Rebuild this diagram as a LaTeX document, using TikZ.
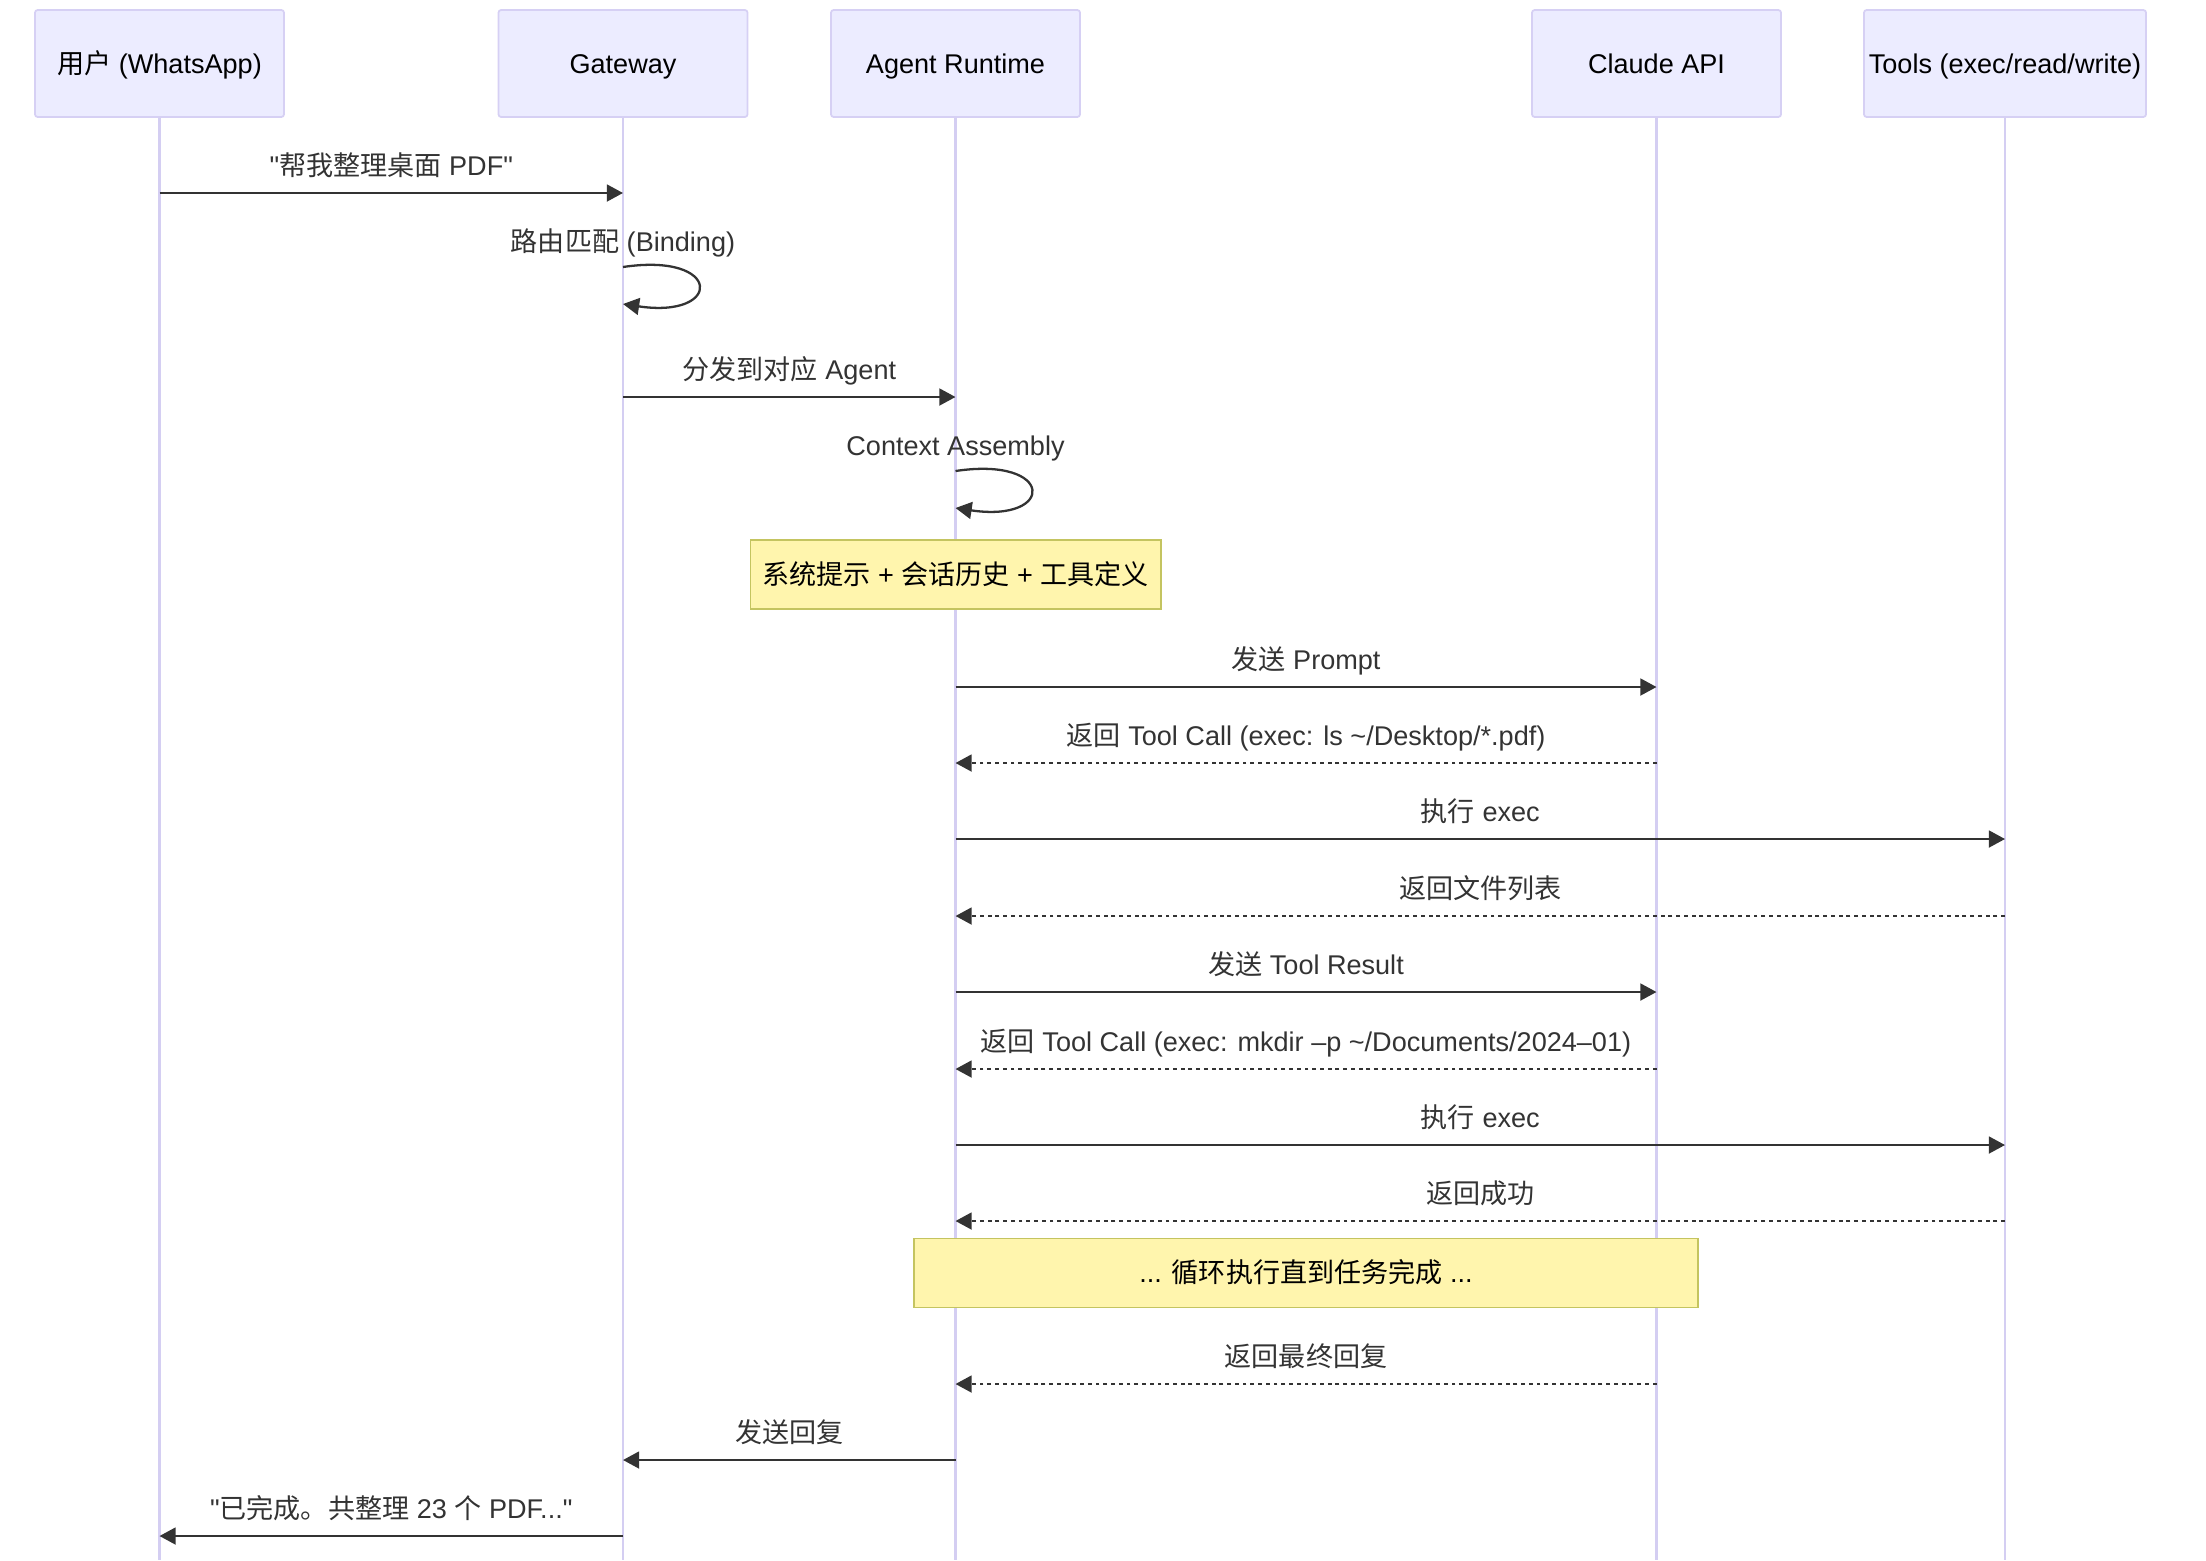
\documentclass[tikz,border=0pt]{standalone}
\usepackage{fontspec}
\setmainfont{Liberation Sans}
\newfontfamily\zhfont{Noto Sans CJK SC}
\newcommand{\zh}[1]{{\zhfont #1}}
\newcommand{\dfont}{\fontsize{7.7}{9}\selectfont}
\usetikzlibrary{arrows.meta}

\definecolor{actfill}{HTML}{ECECFF}
\definecolor{actline}{HTML}{D6D0F4}
\definecolor{lifecol}{HTML}{D4CEF2}
\definecolor{notefill}{HTML}{FFF5AD}
\definecolor{noteline}{HTML}{C4C460}
\definecolor{msgcol}{HTML}{333333}

\tikzset{
  actor/.style={draw=actline, fill=actfill, rounded corners=0.8pt, line width=0.5pt,
    minimum width=2.49cm, minimum height=1.07cm, font=\dfont, text=black,
    text height=0.75em, text depth=0.2em},
  life/.style={draw=lifecol, line width=0.7pt},
  msg/.style={draw=msgcol, line width=0.65pt, -{Triangle[length=4.6pt,width=4.8pt]}},
  ret/.style={msg, dash pattern=on 1.1pt off 1.1pt},
  lbl/.style={pos=0.5, font=\dfont, text=msgcol, text height=0.75em, text depth=0.2em, yshift=0.27cm},
  note/.style={draw=noteline, fill=notefill, line width=0.5pt, minimum height=0.69cm,
    font=\dfont, text=black, text height=0.75em, text depth=0.2em}
}

\begin{document}
\begin{tikzpicture}[x=0.01cm, y=-0.01cm]
\useasboundingbox (0,0) rectangle (2206,1560);

% participants
\node[actor] (user) at (159.5,63.5) {\zh{用户} (WhatsApp)};
\node[actor] (gw) at (623,63.5) {Gateway};
\node[actor] (agent) at (955.5,63.5) {Agent Runtime};
\node[actor] (claude) at (1656.5,63.5) {Claude API};
\node[actor, minimum width=2.82cm, inner xsep=0pt] (tools) at (2005,63.5) {Tools (exec/read/write)};

\coordinate (bottom) at (0,1560);
\foreach \p in {user,gw,agent,claude,tools}
  \draw[life] (\p.south) -- (\p.south |- bottom);

% message rows
\foreach \n/\y in {1/193, 2a/267, 2b/304, 3/397, 4a/471, 4b/508, n1/574.5,
    6/687, 7/763, 8/839, 9/916, 10/992, 11/1069, 12/1145, 13/1221,
    15/1384, 16/1460, 17/1536}
  \coordinate (r\n) at (0,\y);
\coordinate (n2) at (1306,1273);

\draw[msg] (user |- r1) -- node[lbl] {\textquotedbl\zh{帮我整理桌面} PDF\textquotedbl} (gw |- r1);
\draw[msg] (gw |- r2a) .. controls +(100,-15) and +(100,15) .. (gw |- r2b)
  node[lbl, pos=0, yshift=-0.02cm] {\zh{路由匹配} (Binding)};
\draw[msg] (gw |- r3) -- node[lbl] {\zh{分发到对应} Agent} (agent |- r3);
\draw[msg] (agent |- r4a) .. controls +(100,-15) and +(100,15) .. (agent |- r4b)
  node[lbl, pos=0, yshift=-0.02cm] {Context Assembly};

\node[note, minimum width=4.10cm] (ctx) at (agent |- rn1) {\zh{系统提示} + \zh{会话历史} + \zh{工具定义}};

\draw[msg] (agent |- r6) -- node[lbl] {\zh{发送} Prompt} (claude |- r6);
\draw[ret] (claude |- r7) -- node[lbl] {\zh{返回} Tool Call (exec: ls \textasciitilde/Desktop/*.pdf)} (agent |- r7);
\draw[msg] (agent |- r8) -- node[lbl] {\zh{执行} exec} (tools |- r8);
\draw[ret] (tools |- r9) -- node[lbl] {\zh{返回文件列表}} (agent |- r9);
\draw[msg] (agent |- r10) -- node[lbl] {\zh{发送} Tool Result} (claude |- r10);
\draw[ret] (claude |- r11) -- node[lbl] {\zh{返回} Tool Call (exec: mkdir --p \textasciitilde/Documents/2024--01)} (agent |- r11);
\draw[msg] (agent |- r12) -- node[lbl] {\zh{执行} exec} (tools |- r12);
\draw[ret] (tools |- r13) -- node[lbl] {\zh{返回成功}} (agent |- r13);

\node[note, minimum width=7.84cm] (loop) at (n2) {... \zh{循环执行直到任务完成} ...};

\draw[ret] (claude |- r15) -- node[lbl] {\zh{返回最终回复}} (agent |- r15);
\draw[msg] (agent |- r16) -- node[lbl] {\zh{发送回复}} (gw |- r16);
\draw[msg] (gw |- r17) -- node[lbl] {\textquotedbl\zh{已完成。共整理} 23 \zh{个} PDF...\textquotedbl} (user |- r17);
\end{tikzpicture}
\end{document}
